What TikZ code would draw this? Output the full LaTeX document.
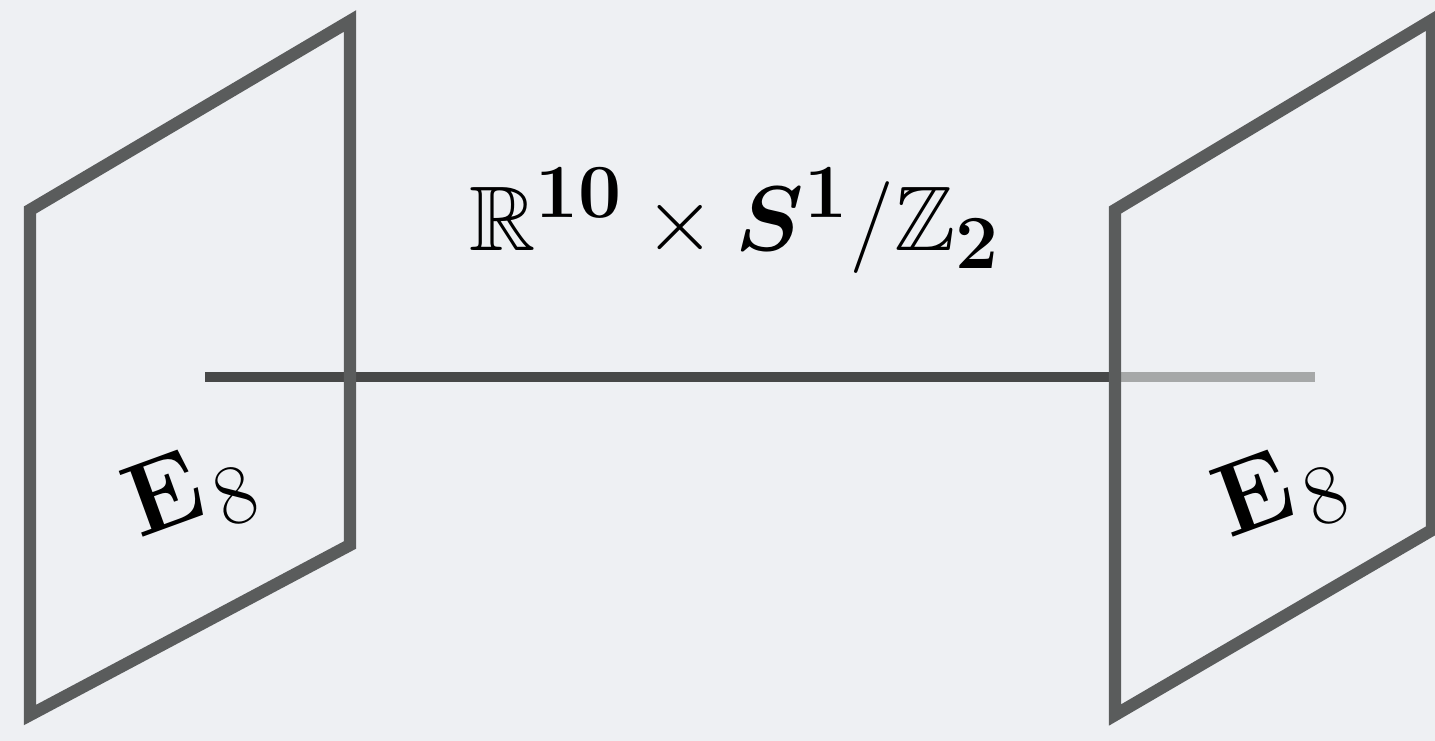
\documentclass[tikz,border=0pt]{standalone}
\usepackage{amsmath,amssymb,bm}
\usetikzlibrary{positioning,calc}
\definecolor{bgcol}{HTML}{EEF0F3}
\definecolor{branecol}{HTML}{5A5C5C}
\definecolor{bulkcol}{HTML}{474848}
\definecolor{fadecol}{HTML}{A6A8A8}
\tikzset{
  brane/.style={draw=branecol, line width=7pt, line join=miter},
  bulk/.style={draw=bulkcol, line width=5.5pt},
  bulkfade/.style={draw=fadecol, line width=5.5pt},
  gauge/.style={font=\Huge, scale=2.35, rotate=20}
}

\begin{document}
\begin{tikzpicture}
  % ---------------------------------------------------------------- canvas
  \fill[bgcol] (0,0) rectangle (28.7,14.82);
  \useasboundingbox (0,0) rectangle (28.7,14.82);
  % ---------------------------------------------------------------- left brane
  \coordinate (L1) at (0.6,10.62);
  \coordinate (L2) at (7.0,14.4);
  \coordinate (L3) at (7.0,3.92);
  \coordinate (L4) at (0.6,0.52);
  % ---------------------------------------------------------------- right brane
  \coordinate (R1) at (22.3,10.62);
  \coordinate (R2) at (28.64,14.42);
  \coordinate (R3) at (28.64,4.22);
  \coordinate (R4) at (22.3,0.52);
  % ---------------------------------------------------------------- interval
  \coordinate (bulkstart) at (4.1,7.28);
  \coordinate (bulkhit) at (22.3,7.28);
  \coordinate (bulkend) at (26.3,7.28);
  \draw[bulkfade] (bulkhit) -- (bulkend);
  \draw[bulk] (bulkstart) -- (bulkhit);
  \draw[brane] (L1) -- (L2) -- (L3) -- (L4) -- cycle;
  \draw[brane] (R1) -- (R2) -- (R3) -- (R4) -- cycle;
  % ---------------------------------------------------------------- labels
  \node[gauge] (e8left) at (3.8,4.95) {$\mathbf{E}_{\mkern2mu 8}$};
  \node[gauge] (e8right) at (25.6,4.95) {$\mathbf{E}_{\mkern2mu 8}$};
  \node[font=\Huge, scale=2.1] (space) at (14.7,10.4)
    {$\mathbb{R}^{\mathbf{10}}\times\bm{S}^{\mathbf{1}}/\mathbb{Z}_{\mathbf{2}}$};
\end{tikzpicture}
\end{document}
